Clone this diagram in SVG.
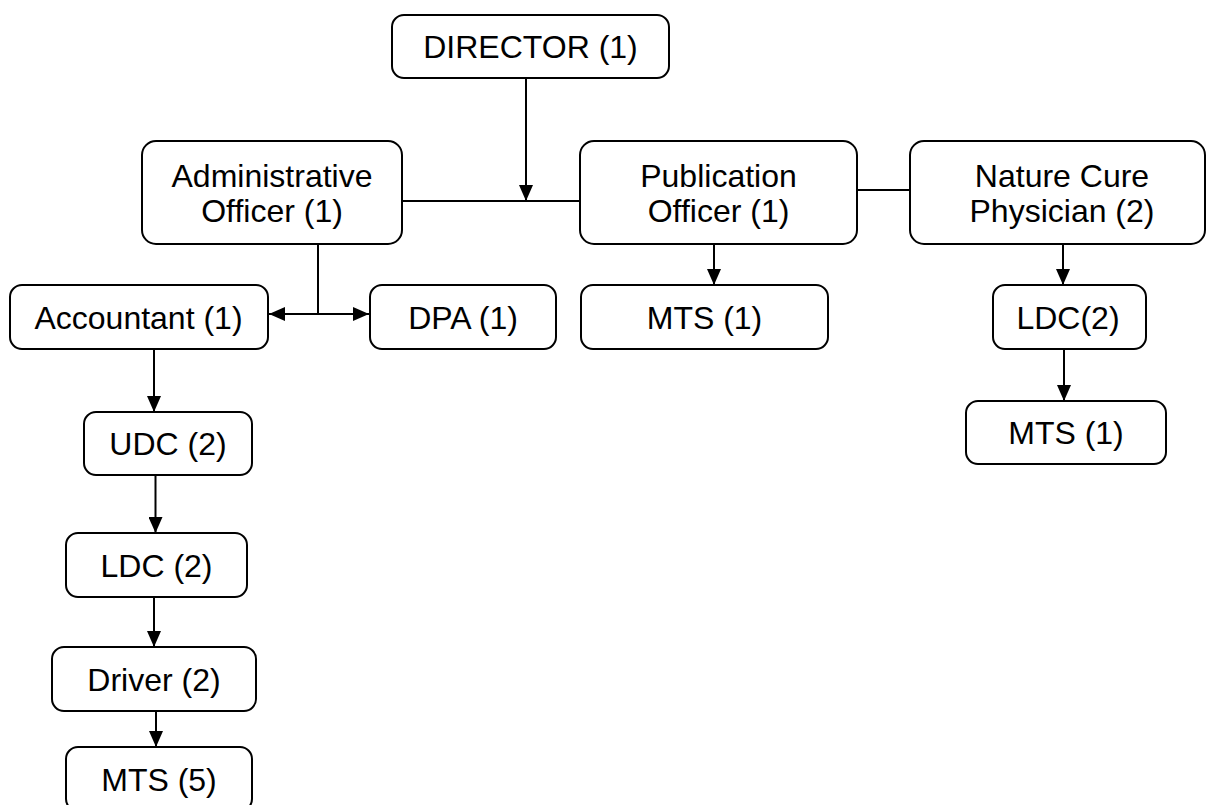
<svg xmlns="http://www.w3.org/2000/svg" width="1206" height="805" viewBox="0 0 1206 805">
<style>
.box{fill:#fff;stroke:#000;stroke-width:2}
.t{font-family:"Liberation Sans",Arial,sans-serif;font-size:32px;fill:#000;text-anchor:middle}
.c{fill:none;stroke:#000;stroke-width:2}
</style>
<defs>
<marker id="ah" viewBox="0 0 10 10" refX="10" refY="5" markerUnits="userSpaceOnUse" markerWidth="16" markerHeight="14" preserveAspectRatio="none" orient="auto-start-reverse">
<path d="M0,0 L10,5 L0,10 z" fill="#000"/>
</marker>
</defs>
<rect width="1206" height="805" fill="#fff"/>
<g id="connectors">
<path class="c" d="M526,78 V201" marker-end="url(#ah)"/>
<path class="c" d="M402,201 H580"/>
<path class="c" d="M857,190 H910"/>
<path class="c" d="M318,244 V314"/>
<path class="c" d="M269,314 H369" marker-start="url(#ah)" marker-end="url(#ah)"/>
<path class="c" d="M154,349 V412" marker-end="url(#ah)"/>
<path class="c" d="M155.5,475 V533" marker-end="url(#ah)"/>
<path class="c" d="M154,597 V647" marker-end="url(#ah)"/>
<path class="c" d="M156,711 V747" marker-end="url(#ah)"/>
<path class="c" d="M714,244 V285" marker-end="url(#ah)"/>
<path class="c" d="M1063,244 V285" marker-end="url(#ah)"/>
<path class="c" d="M1064,349 V401" marker-end="url(#ah)"/>
</g>
<g id="director"><rect class="box" x="392" y="15" width="277" height="63" rx="12"/><text class="t" x="530.5" y="58">DIRECTOR (1)</text></g>
<g id="admin"><rect class="box" x="142" y="141" width="260" height="103" rx="14"/><text class="t" x="272" y="187">Administrative</text><text class="t" x="272" y="222">Officer (1)</text></g>
<g id="publication"><rect class="box" x="580" y="141" width="277" height="103" rx="14"/><text class="t" x="718.5" y="187">Publication</text><text class="t" x="718.5" y="222">Officer (1)</text></g>
<g id="nature"><rect class="box" x="910" y="141" width="295" height="103" rx="14"/><text class="t" x="1062" y="187">Nature Cure</text><text class="t" x="1062" y="222">Physician (2)</text></g>
<g id="accountant"><rect class="box" x="10" y="285" width="258" height="64" rx="12"/><text class="t" x="138.5" y="328.5">Accountant (1)</text></g>
<g id="dpa"><rect class="box" x="370" y="285" width="186" height="64" rx="12"/><text class="t" x="463" y="328.5">DPA (1)</text></g>
<g id="pub-mts"><rect class="box" x="581" y="285" width="247" height="64" rx="12"/><text class="t" x="704.5" y="328.5">MTS (1)</text></g>
<g id="nat-ldc"><rect class="box" x="993" y="285" width="153" height="64" rx="12"/><text class="t" x="1068" y="328.5">LDC(2)</text></g>
<g id="nat-mts"><rect class="box" x="966" y="401" width="200" height="63" rx="12"/><text class="t" x="1066" y="444">MTS (1)</text></g>
<g id="udc"><rect class="box" x="84" y="412" width="168" height="63" rx="12"/><text class="t" x="168" y="455">UDC (2)</text></g>
<g id="ldc"><rect class="box" x="66" y="533" width="181" height="64" rx="12"/><text class="t" x="156.5" y="576.5">LDC (2)</text></g>
<g id="driver"><rect class="box" x="52" y="647" width="204" height="64" rx="12"/><text class="t" x="154" y="690.5">Driver (2)</text></g>
<g id="mts5"><rect class="box" x="66" y="747" width="186" height="64" rx="12"/><text class="t" x="159" y="790.5">MTS (5)</text></g>
</svg>
